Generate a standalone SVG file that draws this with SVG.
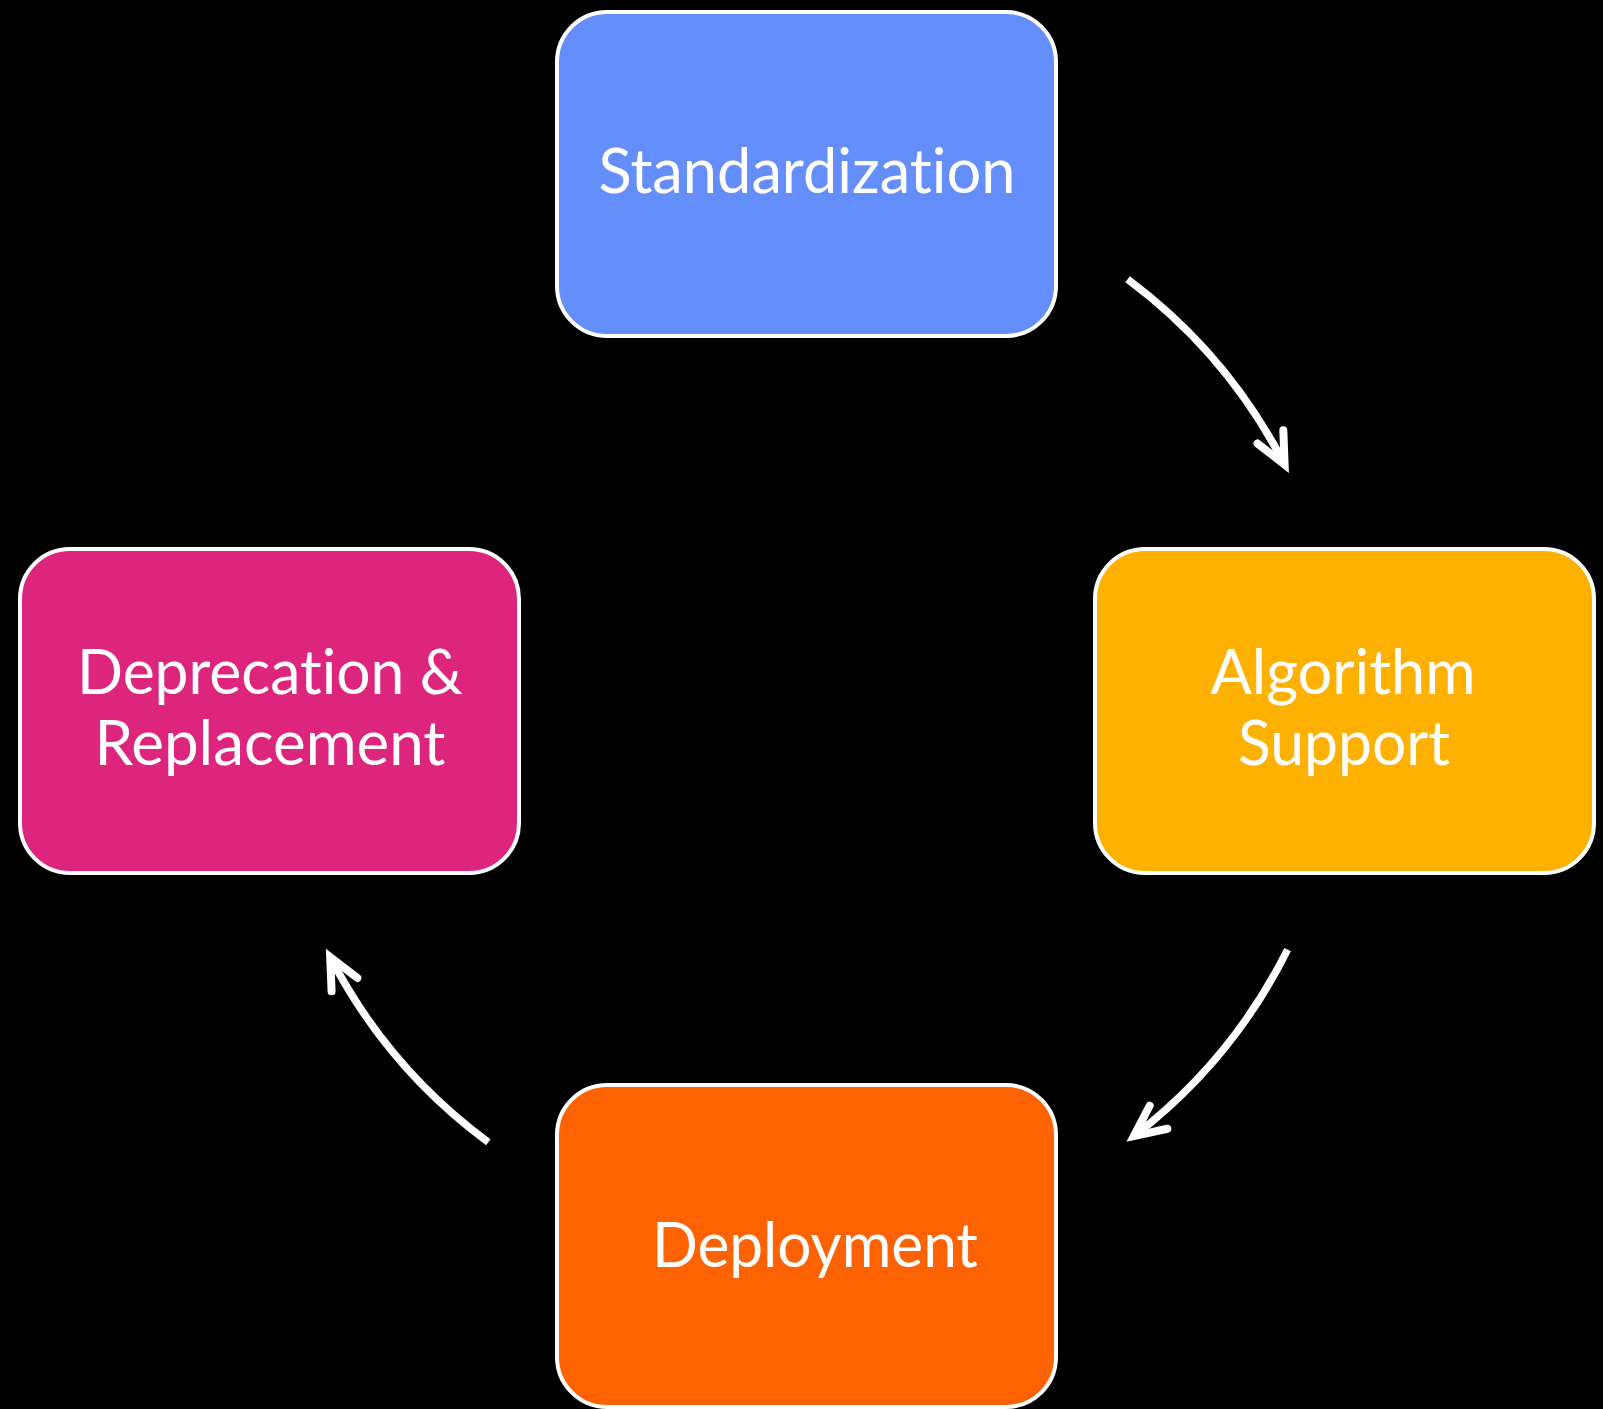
<svg xmlns="http://www.w3.org/2000/svg" width="1603" height="1409" viewBox="0 0 1603 1409">
<style>
.box{stroke:#ffffff;stroke-width:4}
.lbl{font-family:Lato,"Open Sans","Liberation Sans",sans-serif;font-size:61px;fill:#ffffff;text-anchor:middle;font-variant-ligatures:none;font-feature-settings:"liga" 0}
.arc{fill:none;stroke:#ffffff;stroke-width:7.5;stroke-linecap:butt}
</style>
<defs>
<marker id="arr" markerUnits="userSpaceOnUse" markerWidth="40" markerHeight="40" refX="0" refY="0" orient="auto" overflow="visible">
<path d="M -31 -14.5 L 0 0 L -31 14.5" fill="none" stroke="#ffffff" stroke-width="8" stroke-linejoin="miter" stroke-linecap="round"/>
</marker>
</defs>
<rect x="0" y="0" width="1603" height="1409" fill="#000000"/>
<g id="connectors">
<path class="arc" d="M 1127.6 279.2 A 537 537 0 0 1 1284.6 464.5" marker-end="url(#arr)"/>
<path class="arc" d="M 1287.6 949.6 A 537 537 0 0 1 1133.9 1136.1" marker-end="url(#arr)"/>
<path class="arc" d="M 488.3 1142.2 A 537 537 0 0 1 330.2 957.1" marker-end="url(#arr)"/>
</g>
<g id="node-standardization">
<rect class="box" x="557" y="12" width="499" height="324" rx="50" fill="#638EFC"/>
<text class="lbl" x="807" y="193" textLength="417" lengthAdjust="spacingAndGlyphs">Standardization</text>
</g>
<g id="node-algorithm-support">
<rect class="box" x="1095" y="549" width="499" height="324" rx="50" fill="#FFB102"/>
<text class="lbl" x="1343" y="694" textLength="265" lengthAdjust="spacingAndGlyphs">Algorithm</text>
<text class="lbl" x="1344" y="765" textLength="212" lengthAdjust="spacingAndGlyphs">Support</text>
</g>
<g id="node-deployment">
<rect class="box" x="557" y="1085" width="499" height="322" rx="50" fill="#FF6301"/>
<text class="lbl" x="815" y="1267" textLength="326" lengthAdjust="spacingAndGlyphs">Deployment</text>
</g>
<g id="node-deprecation">
<rect class="box" x="20" y="549" width="499" height="324" rx="50" fill="#DE257E"/>
<text class="lbl" x="270" y="694" textLength="386" lengthAdjust="spacingAndGlyphs">Deprecation &amp;</text>
<text class="lbl" x="270" y="765" textLength="351" lengthAdjust="spacingAndGlyphs">Replacement</text>
</g>
</svg>
